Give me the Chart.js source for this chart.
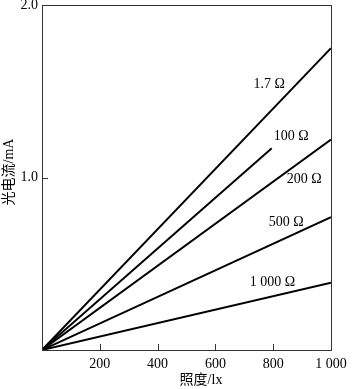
<!DOCTYPE html>
<html>
<head>
<meta charset="utf-8">
<script src="https://cdn.jsdelivr.net/npm/chart.js@4.4.0/dist/chart.umd.min.js"></script>
<style>
  html, body { margin: 0; padding: 0; background: #fff; }
  #wrap { width: 353px; height: 389px; }
</style>
</head>
<body>
<div id="wrap"><canvas id="myChart"></canvas></div>
<script>
// resistance of each curve, and where each straight line ends
var seriesNames = ["1.7 Ω", "100 Ω", "200 Ω", "500 Ω", "1 000 Ω"];
var endLux = [1000, 795, 1000, 1000, 1000];
var endCurrent = [1.75, 1.17, 1.22, 0.77, 0.39];

var xTicks = [200, 400, 600, 800, 1000];
var yTicks = [1.0, 2.0];

// where the resistance labels sit (data coords)
var labelLux = [786, 862, 907, 845, 797];
var labelCurrent = [1.54, 1.24, 0.99, 0.74, 0.39];

var serif = '"Liberation Serif", "Times New Roman", "Noto Sans CJK SC", serif';

var datasets = seriesNames.map(function (name, i) {
  return {
    label: name,
    data: [{ x: 0, y: 0 }, { x: endLux[i], y: endCurrent[i] }],
    borderColor: "#000",
    borderWidth: 2,
    pointRadius: 0,
    tension: 0,
  };
});

var extras = {
  id: "extras",
  afterDraw: function (chart) {
    var c = chart.ctx, a = chart.chartArea;
    var xs = chart.scales.x, ys = chart.scales.y;
    c.save();
    c.strokeStyle = "#333";
    c.lineWidth = 1;
    c.strokeRect(a.left + 0.5, a.top + 0.5, a.right - a.left, a.bottom - a.top);
    // inward ticks
    c.beginPath();
    xTicks.forEach(function (v) {
      var px = Math.round(xs.getPixelForValue(v)) + 0.5;
      c.moveTo(px, a.bottom);
      c.lineTo(px, a.bottom - 6);
    });
    yTicks.forEach(function (v) {
      var py = Math.round(ys.getPixelForValue(v)) + 0.5;
      c.moveTo(a.left, py);
      c.lineTo(a.left + 6, py);
    });
    c.stroke();
    // curve labels
    c.fillStyle = "#000";
    c.font = "14px " + serif;
    c.textAlign = "center";
    c.textBaseline = "middle";
    seriesNames.forEach(function (name, i) {
      c.fillText(name, xs.getPixelForValue(labelLux[i]), ys.getPixelForValue(labelCurrent[i]));
    });
    // axis titles
    c.font = "14px " + serif;
    c.fillText("照度/lx", 201, 380);
    c.translate(9, 172);
    c.rotate(-Math.PI / 2);
    c.fillText("光电流/mA", 0, 0);
    c.restore();
  },
};

var ctx = document.getElementById("myChart").getContext("2d");
new Chart(ctx, {
  type: "line",
  data: { datasets: datasets },
  plugins: [extras],
  options: {
    responsive: true,
    maintainAspectRatio: false,
    animation: false,
    layout: { padding: { top: 5, right: 22, left: 0, bottom: 0 } },
    plugins: { legend: { display: false }, tooltip: { enabled: false } },
    scales: {
      x: {
        type: "linear",
        min: 0,
        max: 1000,
        ticks: {
          stepSize: 200,
          padding: 6,
          color: "#000",
          font: { family: serif, size: 14 },
          callback: function (v) {
            if (v === 0) return "";
            return v === 1000 ? "1 000" : String(v);
          },
        },
        grid: { display: false, drawTicks: false },
        border: { color: "#333" },
        afterFit: function (s) { s.height = 39; s.paddingLeft = 0; s.paddingRight = 0; },
      },
      y: {
        min: 0,
        max: 2,
        ticks: {
          stepSize: 1,
          padding: 4,
          color: "#000",
          font: { family: serif, size: 14 },
          callback: function (v) { return v === 0 ? "" : v.toFixed(1); },
        },
        grid: { display: false, drawTicks: false },
        border: { color: "#333" },
        afterFit: function (s) { s.width = 42; s.paddingTop = 0; s.paddingBottom = 0; },
      },
    },
  },
});
</script>
</body>
</html>
